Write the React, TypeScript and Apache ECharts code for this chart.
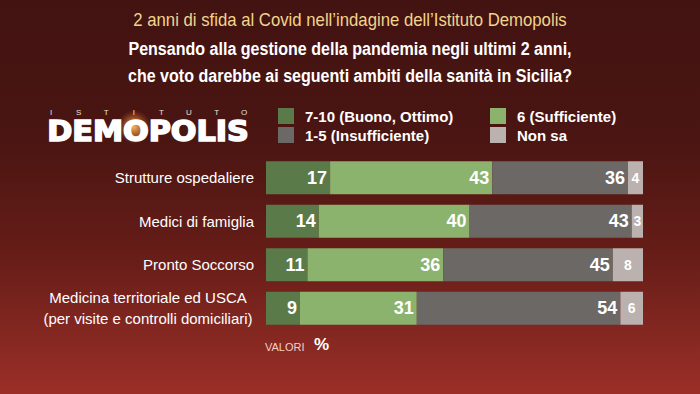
import React, { useEffect, useRef } from "react";
import * as echarts from "echarts";

const categories = [
  "Strutture ospedaliere",
  "Medici di famiglia",
  "Pronto Soccorso",
  "Medicina territoriale ed USCA\n(per visite e controlli domiciliari)",
];
const seriesNames = ["7-10 (Buono, Ottimo)", "6 (Sufficiente)", "1-5 (Insufficiente)", "Non sa"];
const buonoOttimo = [17, 14, 11, 9];
const sufficiente = [43, 40, 36, 31];
const insufficiente = [36, 43, 45, 54];
const nonSa = [4, 3, 8, 6];
const colors = ["#5a7b49", "#8bb36e", "#6c6866", "#bbb1af"];

const title1 = "2 anni di sfida al Covid nell\u2019indagine dell\u2019Istituto Demopolis";
const title2 = "Pensando alla gestione della pandemia negli ultimi 2 anni,";
const title3 = "che voto darebbe ai seguenti ambiti della sanit\u00e0 in Sicilia?";

const SANS = "'Liberation Sans', Arial, Helvetica, sans-serif";

export default function App() {
  const ref = useRef<HTMLDivElement>(null);
  useEffect(() => {
    if (!ref.current) return;
    const chart = echarts.init(ref.current, null, { renderer: "svg" });
    const values = [buonoOttimo, sufficiente, insufficiente, nonSa];
    const istituto = "ISTITUTO".split("");
    const option: any = {
      animation: false,
      backgroundColor: {
        type: "linear",
        x: 0, y: 0, x2: 0, y2: 1,
        colorStops: [
          { offset: 0, color: "#421311" },
          { offset: 0.35, color: "#4a1512" },
          { offset: 0.65, color: "#671d18" },
          { offset: 1, color: "#9b2f28" },
        ],
      },
      grid: { left: 266, right: 57, top: 156, bottom: 64 },
      xAxis: { type: "value", min: 0, max: 100, show: false },
      yAxis: {
        type: "category",
        data: categories,
        inverse: true,
        axisLine: { show: false },
        axisTick: { show: false },
        splitLine: { show: false },
        axisLabel: {
          color: "#ffffff",
          fontFamily: SANS,
          fontSize: 15,
          margin: 12,
          lineHeight: 21,
          align: "right",
          formatter: (v: string) =>
            v.indexOf("\n") >= 0 ? v.split("\n").map((l) => `{c|${l}}`).join("\n") : v,
          rich: {
            c: { width: 212, align: "center", color: "#ffffff", fontFamily: SANS, fontSize: 15, lineHeight: 21 },
          },
        },
      },
      legend: [
        {
          data: [seriesNames[0], seriesNames[2]],
          orient: "vertical",
          left: 278,
          top: 108,
          itemWidth: 16,
          itemHeight: 16,
          itemGap: 3,
          padding: 0,
          icon: "rect",
          textStyle: { color: "#ffffff", fontFamily: SANS, fontWeight: "bold", fontSize: 15, padding: [0, 0, 0, 6] },
        },
        {
          data: [seriesNames[1], seriesNames[3]],
          orient: "vertical",
          left: 490,
          top: 108,
          itemWidth: 16,
          itemHeight: 16,
          itemGap: 3,
          padding: 0,
          icon: "rect",
          textStyle: { color: "#ffffff", fontFamily: SANS, fontWeight: "bold", fontSize: 15, padding: [0, 0, 0, 6] },
        },
      ],
      series: seriesNames.map((name, i) => ({
        name,
        type: "bar",
        stack: "total",
        barWidth: 33,
        data: values[i],
        itemStyle: { color: colors[i] },
        label: {
          show: true,
          position: i === 3 ? "inside" : "insideRight",
          distance: 3,
          color: "#ffffff",
          fontFamily: SANS,
          fontWeight: "bold",
          fontSize: i === 3 ? 14 : 18,
        },
      })),
      graphic: [
        {
          type: "text", x: 350, y: 11, scaleX: 0.93,
          style: { text: title1, fill: "#f1d58c", font: `18px ${SANS}`, textAlign: "center" },
        },
        {
          type: "text", x: 350, y: 39, scaleX: 0.845,
          style: { text: title2, fill: "#ffffff", font: `bold 19px ${SANS}`, textAlign: "center" },
        },
        {
          type: "text", x: 350, y: 66, scaleX: 0.845,
          style: { text: title3, fill: "#ffffff", font: `bold 19px ${SANS}`, textAlign: "center" },
        },
        {
          type: "circle",
          shape: { cx: 134, cy: 127, r: 17 },
          style: {
            fill: {
              type: "radial", x: 0.5, y: 0.5, r: 0.5,
              colorStops: [
                { offset: 0, color: "rgba(255,190,90,0.95)" },
                { offset: 0.5, color: "rgba(230,140,60,0.55)" },
                { offset: 1, color: "rgba(180,80,30,0)" },
              ],
            },
          },
        },
        ...istituto.map((ch, k) => ({
          type: "text",
          x: 51 + k * 27.6,
          y: 108,
          style: { text: ch, fill: "#e8e0dc", font: `8px ${SANS}`, textAlign: "center" },
        })),
        {
          type: "text", x: 148, y: 117, scaleX: 1.08,
          style: {
            text: "DEMOPOLIS", fill: "#ffffff", font: `900 28px 'DejaVu Sans', sans-serif`,
            textAlign: "center", stroke: "#ffffff", lineWidth: 1.6,
          },
        },
        {
          type: "text", x: 265, y: 341,
          style: { text: "VALORI", fill: "#f2cfc8", font: `11px ${SANS}` },
        },
        {
          type: "text", x: 314, y: 336,
          style: { text: "%", fill: "#ffffff", font: `bold 17px ${SANS}` },
        },
      ],
    };
    chart.setOption(option);
    return () => chart.dispose();
  }, []);
  return <div ref={ref} style={{ position: "fixed", left: 0, top: 0, width: 700, height: 394 }} />;
}
